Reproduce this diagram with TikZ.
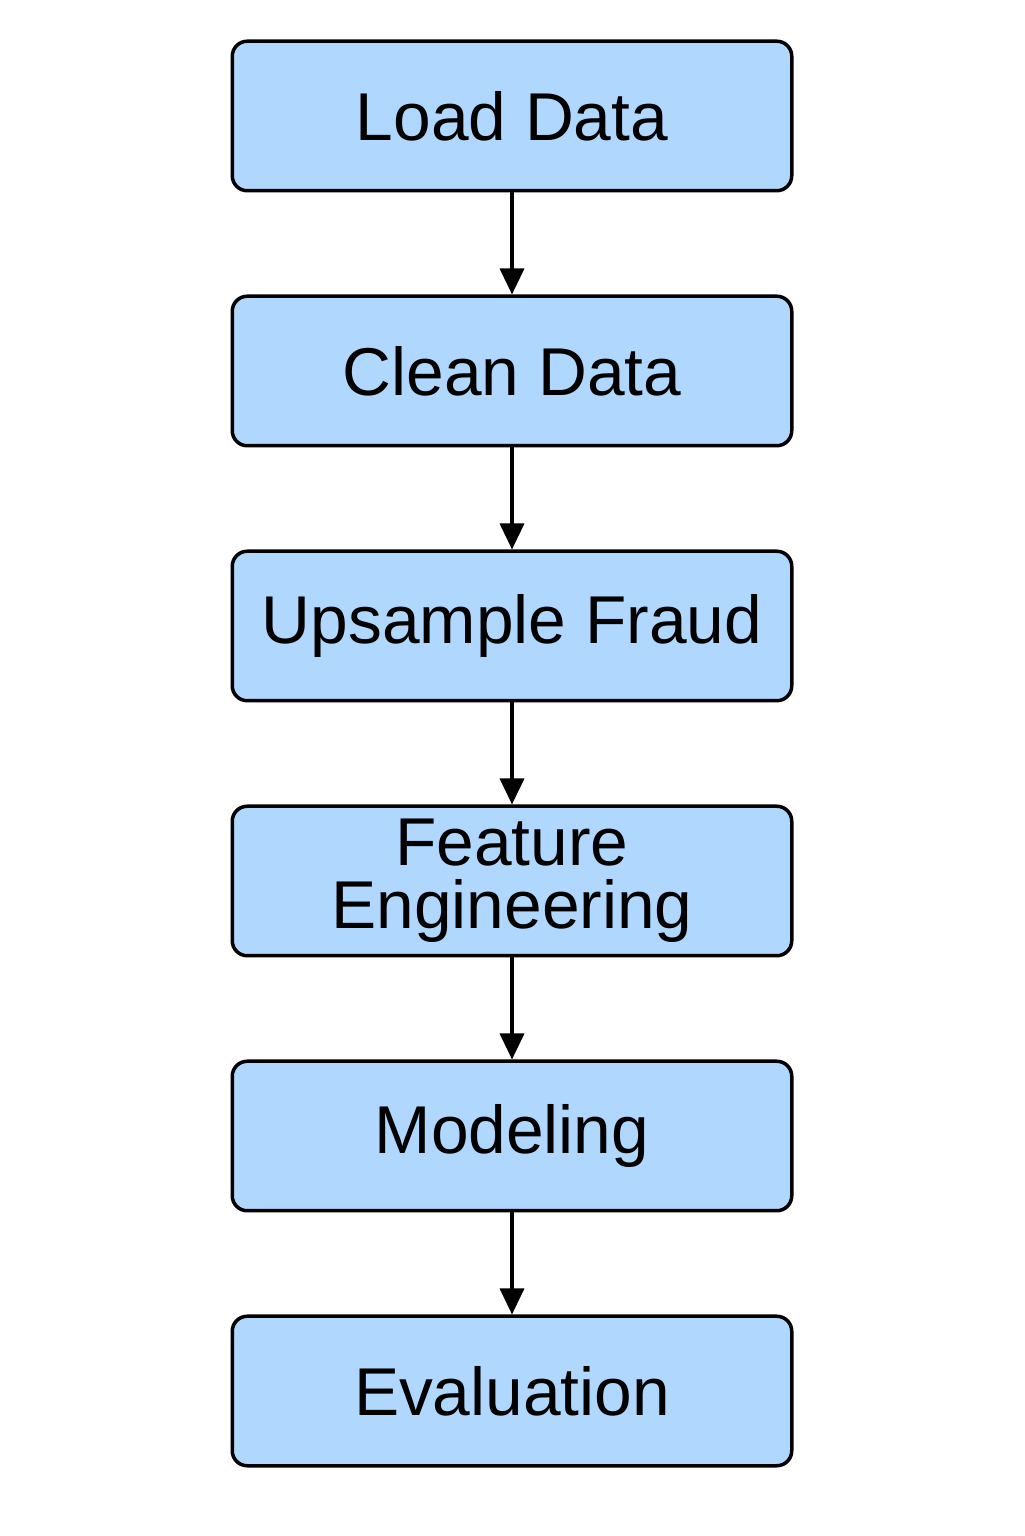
\documentclass[tikz,border=0pt]{standalone}
\usepackage{fontspec}
\setmainfont{Liberation Sans}
\usetikzlibrary{positioning,arrows.meta}
\definecolor{stepblue}{RGB}{176,216,255}
\begin{document}
\begin{tikzpicture}[
    >={Triangle[width=0.48cm,length=0.52cm]},
    stepbox/.style={
        draw,
        fill=stepblue,
        rounded corners=0.3cm,
        line width=0.07cm,
        minimum width=11.19cm,
        minimum height=2.99cm,
        inner sep=0pt,
        align=center,
        font=\fontsize{38.5}{36}\selectfont
    },
    flow/.style={
        ->,
        line width=0.07cm
    },
    node distance=2.04cm
    ]
    \useasboundingbox (0,0) rectangle (20.48,30.72);
    \node[stepbox] (LOAD) at (10.24,28.4) {Load Data};
    \node[stepbox,below=of LOAD] (CLEAN) {Clean Data};
    \node[stepbox,below=of CLEAN] (UPSAMPLE) {Upsample Fraud};
    \node[stepbox,below=of UPSAMPLE] (FEATURE) {Feature\\Engineering};
    \node[stepbox,below=of FEATURE] (MODEL) {Modeling};
    \node[stepbox,below=of MODEL] (EVAL) {Evaluation};

    \draw[flow] (LOAD) -- (CLEAN);
    \draw[flow] (CLEAN) -- (UPSAMPLE);
    \draw[flow] (UPSAMPLE) -- (FEATURE);
    \draw[flow] (FEATURE) -- (MODEL);
    \draw[flow] (MODEL) -- (EVAL);
\end{tikzpicture}
\end{document}
